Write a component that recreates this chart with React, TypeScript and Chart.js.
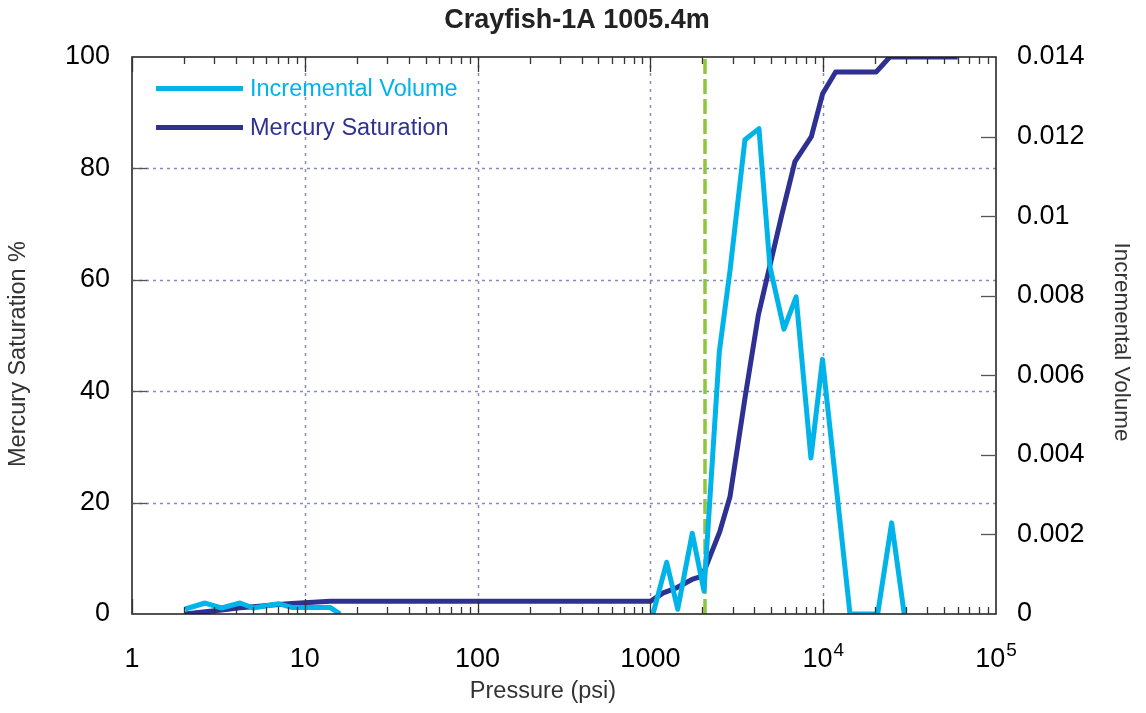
import React, { useEffect, useRef } from "react";
import { Chart, registerables } from "chart.js";

Chart.register(...registerables);

// ---------- Data ----------
const chartTitle = "Crayfish-1A 1005.4m";
const xTitle = "Pressure (psi)";
const yLeftTitle = "Mercury Saturation %";
const yRightTitle = "Incremental Volume";
const incLabel = "Incremental Volume";
const satLabel = "Mercury Saturation";

// Mercury saturation (%) vs pressure (psi)
const satPressure = [2.03, 2.65, 3.3, 4.22, 5.03, 7.02, 8.4, 14.0, 16.0, 1005, 1188, 1417, 1740, 1995, 2152, 2521, 2890, 3524, 4215, 5753, 6860, 8540, 9920, 11800, 20240, 24300, 60000];
const satValues = [0, 0.4, 0.7, 1.1, 1.3, 1.7, 1.9, 2.3, 2.3, 2.3, 3.8, 4.7, 6.2, 6.8, 9.4, 14.8, 21.1, 38.7, 53.7, 71.6, 81.2, 85.7, 93.4, 97.3, 97.3, 100, 100];

// Incremental volume vs pressure (psi); null = no data (gap)
const incPressure = [2.03, 2.65, 3.3, 4.22, 5.03, 7.02, 8.4, 14.0, 16.0, 100, 1035, 1242, 1439, 1747, 2043, 2505, 2890, 3524, 4248, 4918, 5928, 6970, 8490, 9910, 14290, 20660, 24900, 29440];
const incValues = [0.000126, 0.000276, 0.000151, 0.000276, 0.000151, 0.000259, 0.000166, 0.000166, 0, null, 0, 0.0013, 0.00012, 0.00203, 0.00058, 0.00659, 0.00864, 0.01192, 0.0122, 0.00873, 0.00716, 0.00797, 0.00392, 0.0064, 0, 0, 0.00229, 0];

// Threshold (entry) pressure marker
const thresholdPressure = [2070, 2070];
const thresholdSat = [0, 100];

// Axis ranges / ticks
const xMin = 1;
const xMax = 100000;
const xDecades = [1, 10, 100, 1000, 10000, 100000];
const xTickText = ["1", "10", "100", "1000", "10|4", "10|5"];
const satMax = 100;
const satStep = 20;
const incMax = 0.014;
const incStep = 0.002;

// ---------- Styles ----------
const FONT = 'Arial, "Liberation Sans", Helvetica, sans-serif';
const C_INC = "#00B3E9";
const C_SAT = "#2E3192";
const C_THR = "#8DC63F";
const C_GRID = "#8489c6";

const toPts = (xs: number[], ys: (number | null)[]) => xs.map((x, i) => ({ x, y: ys[i] }));

const overlayPlugin = {
  id: "overlay",
  beforeDatasetsDraw(chart: any) {
    const { ctx, chartArea: a, scales } = chart;
    const x = scales.x, y = scales.y;
    ctx.save();
    ctx.strokeStyle = C_GRID;
    ctx.lineWidth = 1.5;
    // vertical dotted grid at decades
    ctx.setLineDash([3, 5]);
    xDecades.slice(1, -1).forEach((v) => {
      const px = Math.round(x.getPixelForValue(v)) + 0.5;
      ctx.beginPath();
      ctx.moveTo(px, a.top);
      ctx.lineTo(px, a.bottom);
      ctx.stroke();
    });
    // horizontal dotted grid
    ctx.setLineDash([3, 4]);
    for (let v = satStep; v < satMax; v += satStep) {
      const py = Math.round(y.getPixelForValue(v)) + 0.5;
      ctx.beginPath();
      ctx.moveTo(a.left, py);
      ctx.lineTo(a.right, py);
      ctx.stroke();
    }
    ctx.restore();
  },
  afterDatasetsDraw(chart: any) {
    const { ctx, chartArea: a, scales } = chart;
    const x = scales.x, y = scales.y, y1 = scales.y1;
    ctx.save();
    ctx.setLineDash([]);
    // box
    ctx.strokeStyle = "#1a1a1a";
    ctx.lineWidth = 1.5;
    ctx.strokeRect(a.left, a.top, a.right - a.left, a.bottom - a.top);

    // x ticks (major + minor), bottom and top, inward
    ctx.strokeStyle = "#333";
    ctx.lineWidth = 1.3;
    for (let d = 0; d < xDecades.length - 1; d++) {
      const base = xDecades[d];
      for (let m = 1; m <= 9; m++) {
        const v = base * m;
        const px = Math.round(x.getPixelForValue(v)) + 0.5;
        const len = m === 1 ? 15 : 7;
        ctx.beginPath();
        ctx.moveTo(px, a.bottom);
        ctx.lineTo(px, a.bottom - len);
        ctx.moveTo(px, a.top);
        ctx.lineTo(px, a.top + len);
        ctx.stroke();
      }
    }
    // left y ticks
    ctx.strokeStyle = "#555";
    for (let v = satStep; v < satMax; v += satStep) {
      const py = Math.round(y.getPixelForValue(v)) + 0.5;
      ctx.beginPath();
      ctx.moveTo(a.left, py);
      ctx.lineTo(a.left + 15, py);
      ctx.stroke();
    }
    // right y ticks
    for (let i = 1; i * incStep < incMax - 1e-9; i++) {
      const py = Math.round(y1.getPixelForValue(i * incStep)) + 0.5;
      ctx.beginPath();
      ctx.moveTo(a.right, py);
      ctx.lineTo(a.right - 15, py);
      ctx.stroke();
    }

    // x tick labels (with superscripts)
    ctx.fillStyle = "#000";
    ctx.textBaseline = "alphabetic";
    const baseY = 666.7;
    xDecades.forEach((v, i) => {
      const px = x.getPixelForValue(v);
      const t = xTickText[i];
      if (t.includes("|")) {
        const [b, e] = t.split("|");
        ctx.font = `27px ${FONT}`;
        const wb = ctx.measureText(b).width;
        ctx.font = `19px ${FONT}`;
        const we = ctx.measureText(e).width;
        const start = px - (wb + we + 1) / 2;
        ctx.font = `27px ${FONT}`;
        ctx.textAlign = "left";
        ctx.fillText(b, start, baseY);
        ctx.font = `19px ${FONT}`;
        ctx.fillText(e, start + wb + 1, baseY - 11);
      } else {
        ctx.font = `27px ${FONT}`;
        ctx.textAlign = "center";
        ctx.fillText(t, px, baseY);
      }
    });

    // title
    ctx.fillStyle = "#222";
    ctx.font = `bold 27px ${FONT}`;
    ctx.textAlign = "center";
    ctx.textBaseline = "middle";
    ctx.fillText(chartTitle, 577, 21);

    // axis titles
    ctx.fillStyle = "#333";
    ctx.font = `23.5px ${FONT}`;
    ctx.fillText(xTitle, 543, 692);
    ctx.save();
    ctx.translate(18.5, 354);
    ctx.rotate(-Math.PI / 2);
    ctx.fillText(yLeftTitle, 0, 0);
    ctx.restore();
    ctx.save();
    ctx.font = `22.5px ${FONT}`;
    ctx.translate(1121.5, 342);
    ctx.rotate(Math.PI / 2);
    ctx.fillText(yRightTitle, 0, 0);
    ctx.restore();

    // legend
    const legend = [
      { label: incLabel, color: C_INC, y: 88.5 },
      { label: satLabel, color: C_SAT, y: 127.5 },
    ];
    legend.forEach((l) => {
      ctx.strokeStyle = l.color;
      ctx.lineWidth = 5;
      ctx.beginPath();
      ctx.moveTo(156, l.y);
      ctx.lineTo(243, l.y);
      ctx.stroke();
      ctx.fillStyle = l.color;
      ctx.font = `23.5px ${FONT}`;
      ctx.textAlign = "left";
      ctx.textBaseline = "middle";
      ctx.fillText(l.label, 250, l.y + 1);
    });
    ctx.restore();
  },
};

export default function App() {
  const ref = useRef<HTMLCanvasElement | null>(null);
  useEffect(() => {
    if (!ref.current) return;
    Chart.defaults.font.family = FONT;
    const chart = new Chart(ref.current, {
      type: "line",
      data: {
        datasets: [
          {
            label: incLabel,
            data: toPts(incPressure, incValues),
            yAxisID: "y1",
            borderColor: C_INC,
            backgroundColor: C_INC,
            borderWidth: 5,
            pointRadius: 0,
            tension: 0,
            spanGaps: false,
            borderJoinStyle: "round",
          },
          {
            label: "threshold",
            data: toPts(thresholdPressure, thresholdSat),
            yAxisID: "y",
            borderColor: C_THR,
            borderWidth: 3.5,
            borderDash: [15, 5],
            pointRadius: 0,
          },
          {
            label: satLabel,
            data: toPts(satPressure, satValues),
            yAxisID: "y",
            borderColor: C_SAT,
            backgroundColor: C_SAT,
            borderWidth: 5,
            pointRadius: 0,
            tension: 0,
            borderJoinStyle: "round",
          },
        ],
      },
      options: {
        animation: false,
        responsive: true,
        maintainAspectRatio: false,
        devicePixelRatio: 1,
        layout: { padding: { top: 57, left: 0, right: 0, bottom: 0 } },
        plugins: {
          legend: { display: false },
          title: { display: false },
          tooltip: { enabled: false },
        },
        scales: {
          x: {
            type: "logarithmic",
            min: xMin,
            max: xMax,
            ticks: { display: false },
            grid: { display: false, drawTicks: false },
            border: { display: false },
            afterFit: (s: any) => {
              s.height = 99;
            },
          },
          y: {
            type: "linear",
            position: "left",
            min: 0,
            max: satMax,
            ticks: { stepSize: satStep, color: "#000", font: { size: 27, family: FONT }, padding: 22 },
            grid: { display: false, drawTicks: false },
            border: { display: false },
            afterFit: (s: any) => {
              s.width = 132;
            },
          },
          y1: {
            type: "linear",
            position: "right",
            min: 0,
            max: incMax,
            ticks: {
              stepSize: incStep,
              color: "#000",
              font: { size: 27, family: FONT },
              padding: 21,
              callback: (v: any) => String(Number(Number(v).toFixed(3))),
            },
            grid: { display: false, drawTicks: false },
            border: { display: false },
            afterFit: (s: any) => {
              s.width = 150;
            },
          },
        },
      },
      plugins: [overlayPlugin],
    } as any);
    return () => chart.destroy();
  }, []);
  return (
    <div style={{ position: "fixed", left: 0, top: 0, width: 1146, height: 713, background: "#fff" }}>
      <canvas ref={ref} />
    </div>
  );
}
